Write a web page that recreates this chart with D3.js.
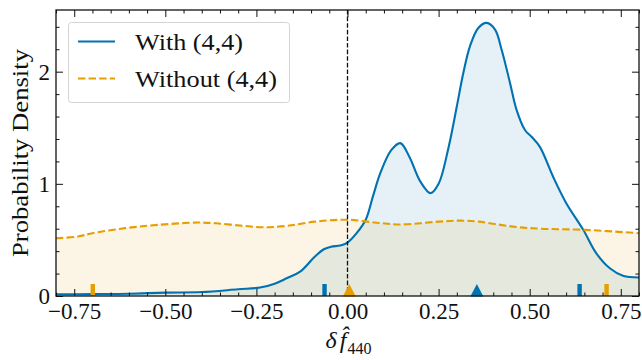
<!DOCTYPE html>
<html>
<head>
<meta charset="utf-8">
<script src="https://cdn.jsdelivr.net/npm/d3@7/dist/d3.min.js"></script>
<style>
  html, body { margin: 0; padding: 0; background: #fff; }
  svg { display: block; }
  text { font-family: "Liberation Serif", "Times New Roman", serif; fill: #111; }
</style>
</head>
<body>
<svg id="chart" width="642" height="360"></svg>
<script>
// Kernel density estimates of the δf̂440 posterior, with and without the (4,4) mode
const withX = [-0.80, -0.70, -0.60, -0.50, -0.40, -0.30, -0.24, -0.20, -0.167, -0.13, -0.09, -0.065, -0.045, -0.02,
  0.00, 0.025, 0.05, 0.07, 0.09, 0.12, 0.145, 0.17, 0.20, 0.228, 0.25, 0.277, 0.30, 0.318, 0.336, 0.359, 0.382,
  0.405, 0.423, 0.446, 0.464, 0.487, 0.505, 0.528, 0.564, 0.60, 0.647, 0.683, 0.72, 0.756, 0.80];
const withY = [0.015, 0.017, 0.02, 0.03, 0.035, 0.06, 0.075, 0.11, 0.158, 0.217, 0.35, 0.417, 0.44, 0.45,
  0.476, 0.56, 0.68, 0.89, 1.095, 1.30, 1.363, 1.24, 1.02, 0.917, 1.0, 1.32, 1.69, 1.99, 2.226, 2.39, 2.435,
  2.375, 2.196, 1.90, 1.66, 1.48, 1.42, 1.33, 1.065, 0.83, 0.59, 0.38, 0.247, 0.18, 0.165];

const withoutX = [-0.80, -0.74, -0.70, -0.61, -0.52, -0.41, -0.36, -0.285, -0.23, -0.167, -0.09, 0.00, 0.09,
  0.15, 0.25, 0.31, 0.36, 0.42, 0.47, 0.53, 0.65, 0.80];
const withoutY = [0.515, 0.53, 0.56, 0.605, 0.634, 0.655, 0.648, 0.625, 0.613, 0.625, 0.663, 0.68, 0.65,
  0.638, 0.663, 0.672, 0.663, 0.634, 0.613, 0.60, 0.59, 0.56];

// 90% interval bounds (rug marks) and medians (triangles)
const withBounds = [-0.063, 0.637];
const withoutBounds = [-0.699, 0.711];
const withMedian = 0.355;
const withoutMedian = 0.005;

const seriesNames = ["With (4,4)", "Without (4,4)"];
const xTicks = [-0.75, -0.50, -0.25, 0.00, 0.25, 0.50, 0.75];
const yTicks = [0, 1, 2];

const blue = "#0072B2", orange = "#E69F00";

const W = 642, H = 360;
const margin = { left: 56, right: 3, top: 10, bottom: 64 };
const svg = d3.select("#chart");

const x = d3.scaleLinear().domain([-0.8, 0.8]).range([margin.left, W - margin.right]);
const y = d3.scaleLinear().domain([0, 2.55]).range([H - margin.bottom, margin.top]);

svg.append("defs").append("clipPath").attr("id", "plot-clip")
  .append("rect")
  .attr("x", x.range()[0]).attr("y", y.range()[1])
  .attr("width", x.range()[1] - x.range()[0]).attr("height", y.range()[0] - y.range()[1]);

const plot = svg.append("g").attr("clip-path", "url(#plot-clip)");

const withData = withX.map((v, i) => [v, withY[i]]);
const withoutData = withoutX.map((v, i) => [v, withoutY[i]]);

const area = d3.area().x(d => x(d[0])).y0(y(0)).y1(d => y(d[1])).curve(d3.curveCatmullRom.alpha(0.5));
const line = d3.line().x(d => x(d[0])).y(d => y(d[1])).curve(d3.curveCatmullRom.alpha(0.5));

plot.append("path").datum(withData).attr("d", area).attr("fill", blue).attr("fill-opacity", 0.1);
plot.append("path").datum(withoutData).attr("d", area).attr("fill", orange).attr("fill-opacity", 0.1);

plot.append("path").datum(withData).attr("d", line)
  .attr("fill", "none").attr("stroke", blue).attr("stroke-width", 2.1);
plot.append("path").datum(withoutData).attr("d", line)
  .attr("fill", "none").attr("stroke", orange).attr("stroke-width", 2.1)
  .attr("stroke-dasharray", "7.4,3.2");

// Reference line at zero
svg.append("line")
  .attr("x1", x(0)).attr("x2", x(0)).attr("y1", y.range()[1]).attr("y2", y.range()[0])
  .attr("stroke", "#111").attr("stroke-width", 1.3).attr("stroke-dasharray", "4.6,2");

// Axes: ticks point inward on all four sides
const fontSize = 23;
function styleAxis(g) {
  g.select(".domain").remove();
  g.selectAll(".tick line").attr("stroke", "#111").attr("stroke-width", 1);
  g.selectAll("text").style("font-family", '"Liberation Serif", serif').style("font-size", fontSize + "px").attr("fill", "#111");
}
const fmtX = d => (d < 0 ? "\u2212" : "") + Math.abs(d).toFixed(2);

const minorX = d3.range(-0.80, 0.801, 0.05).map(v => +v.toFixed(2)).filter(v => !xTicks.some(t => Math.abs(t - v) < 1e-6));
const minorY = d3.range(0, 2.55, 0.2).map(v => +v.toFixed(2)).filter(v => !yTicks.some(t => Math.abs(t - v) < 1e-6));

const axBottom = svg.append("g").attr("transform", `translate(0,${y.range()[0]})`)
  .call(d3.axisBottom(x).tickValues(xTicks).tickFormat(fmtX).tickSizeInner(-7).tickSizeOuter(0).tickPadding(9));
styleAxis(axBottom);
axBottom.selectAll("text").attr("dy", "0.71em").attr("y", 7);
const axBottomMinor = svg.append("g").attr("transform", `translate(0,${y.range()[0]})`)
  .call(d3.axisBottom(x).tickValues(minorX).tickFormat("").tickSizeInner(-3.5).tickSizeOuter(0));
styleAxis(axBottomMinor);

const axTop = svg.append("g").attr("transform", `translate(0,${y.range()[1]})`)
  .call(d3.axisTop(x).tickValues(xTicks).tickFormat("").tickSizeInner(-7).tickSizeOuter(0));
styleAxis(axTop);
const axTopMinor = svg.append("g").attr("transform", `translate(0,${y.range()[1]})`)
  .call(d3.axisTop(x).tickValues(minorX).tickFormat("").tickSizeInner(-3.5).tickSizeOuter(0));
styleAxis(axTopMinor);

const axLeft = svg.append("g").attr("transform", `translate(${x.range()[0]},0)`)
  .call(d3.axisLeft(y).tickValues(yTicks).tickFormat(d3.format("d")).tickSizeInner(-7).tickSizeOuter(0).tickPadding(6));
styleAxis(axLeft);
axLeft.selectAll("text").attr("x", -6);
const axLeftMinor = svg.append("g").attr("transform", `translate(${x.range()[0]},0)`)
  .call(d3.axisLeft(y).tickValues(minorY).tickFormat("").tickSizeInner(-3.5).tickSizeOuter(0));
styleAxis(axLeftMinor);

const axRight = svg.append("g").attr("transform", `translate(${x.range()[1]},0)`)
  .call(d3.axisRight(y).tickValues(yTicks).tickFormat("").tickSizeInner(-7).tickSizeOuter(0));
styleAxis(axRight);
const axRightMinor = svg.append("g").attr("transform", `translate(${x.range()[1]},0)`)
  .call(d3.axisRight(y).tickValues(minorY).tickFormat("").tickSizeInner(-3.5).tickSizeOuter(0));
styleAxis(axRightMinor);

// Rug marks for interval bounds
const rugs = [
  ...withBounds.map(v => ({ v, c: blue })),
  ...withoutBounds.map(v => ({ v, c: orange }))
];
svg.append("g").selectAll("rect").data(rugs).join("rect")
  .attr("x", d => x(d.v) - 2.2).attr("width", 4.4)
  .attr("y", y(0) - 12).attr("height", 12)
  .attr("fill", d => d.c);

// Median markers
const medians = [{ v: withMedian, c: blue }, { v: withoutMedian, c: orange }];
svg.append("g").selectAll("path").data(medians).join("path")
  .attr("d", d => {
    const cx = x(d.v), by = y(0) + 0.5;
    return `M${cx - 6.5},${by}L${cx + 6.5},${by}L${cx},${by - 12.5}Z`;
  })
  .attr("fill", d => d.c);

// Frame
svg.append("rect")
  .attr("x", x.range()[0]).attr("y", y.range()[1])
  .attr("width", x.range()[1] - x.range()[0]).attr("height", y.range()[0] - y.range()[1])
  .attr("fill", "none").attr("stroke", "#111").attr("stroke-width", 1.3);

// Axis titles
svg.append("text")
  .attr("transform", `translate(28,${(y.range()[0] + y.range()[1]) / 2}) rotate(-90)`)
  .attr("text-anchor", "middle")
  .attr("textLength", 208).attr("lengthAdjust", "spacingAndGlyphs")
  .style("font-size", fontSize + "px")
  .text("Probability Density");

const xl = svg.append("text")
  .attr("x", (x.range()[0] + x.range()[1]) / 2 + 1).attr("y", 348)
  .attr("text-anchor", "middle")
  .style("font-size", "24px");
xl.append("tspan").style("font-style", "italic").text("δ");
xl.append("tspan").style("font-style", "italic").attr("dx", 3).text("f\u0302");
xl.append("tspan").attr("dy", 6).attr("dx", 1).style("font-size", "16px").text("440");

// Legend
const lg = svg.append("g");
lg.append("rect")
  .attr("x", 68.5).attr("y", 22.5).attr("width", 221).attr("height", 80).attr("rx", 3)
  .attr("fill", "#fff").attr("fill-opacity", 0.8).attr("stroke", "#d3d3d3").attr("stroke-width", 1);
const legendItems = [
  { name: seriesNames[0], c: blue, dash: null, cy: 41.5, len: 108 },
  { name: seriesNames[1], c: orange, dash: "7.4,3.2", cy: 78.5, len: 142 }
];
legendItems.forEach(it => {
  lg.append("line").attr("x1", 78).attr("x2", 115).attr("y1", it.cy).attr("y2", it.cy)
    .attr("stroke", it.c).attr("stroke-width", 2.1).attr("stroke-dasharray", it.dash);
  lg.append("text").attr("x", 135).attr("y", it.cy + 8.5)
    .attr("textLength", it.len).attr("lengthAdjust", "spacingAndGlyphs")
    .style("font-size", "24px").text(it.name);
});
</script>
</body>
</html>
